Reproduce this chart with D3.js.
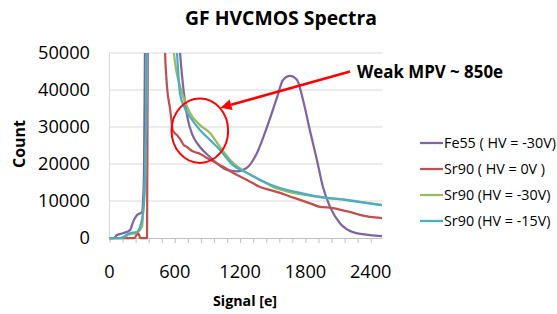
<!DOCTYPE html>
<html><head><meta charset="utf-8">
<script src="https://cdn.jsdelivr.net/npm/d3@7"></script>
<style>body{margin:0;background:#fff}svg{display:block}text{font-family:"Open Sans",sans-serif}</style>
</head><body><svg id="c" width="557" height="314"></svg>
<script>
const seriesNames = ["Fe55 ( HV = -30V)", "Sr90 ( HV = 0V )", "Sr90 (HV = -30V)", "Sr90 (HV = -15V)"];
const seriesColors = ["#8064A2", "#C0504D", "#9BBB59", "#4BACC6"];
const fe55X = [0,40,69,124,188,216,253,299,308,317,326,345,400,500,600,648,680,720,760,831,923,1015,1079,1171,1263,1355,1447,1539,1594,1658,1723,1778,1842,1906,1961,2026,2117,2237,2392,2503];
const fe55Y = [0,0,800,1300,2100,4300,6200,7000,10000,18000,52000,110000,150000,110000,70000,50000,40000,32000,28000,24600,21900,19500,18400,18000,19000,23000,30000,38000,42700,43800,42700,37300,29000,21000,13800,8400,4000,1600,800,500];
const sr0X = [0,230,250,262,272,282,345,352,360,430,500,510,528,556,583,620,648,680,712,760,831,896,960,1015,1075,1135,1200,1263,1383,1470,1566,1650,1750,1850,1934,2053,2150,2237,2320,2392,2503];
const sr0Y = [0,0,900,1400,800,0,0,60000,150000,120000,60000,50000,41000,35000,29000,27800,26800,25200,24600,23500,22800,21600,20600,19700,18700,17600,16600,15700,13800,13000,12200,11300,10300,9300,8400,8100,7400,6800,6100,5700,5400];
const sr30X = [0,100,188,253,299,308,326,340,345,360,450,560,592,648,693,740,831,923,1015,1135,1263,1383,1502,1658,1814,1998,2182,2365,2503];
const sr30Y = [0,0,1000,1500,3000,6700,16000,40000,70000,120000,110000,70000,50000,41000,37000,33800,30500,28400,24600,20300,17600,15700,13800,12400,11600,10800,10300,9500,8900];
const sr15X = [0,100,188,253,280,308,326,340,345,360,450,580,620,648,693,740,831,923,1015,1135,1263,1383,1566,1750,1934,2117,2301,2503];
const sr15Y = [0,0,1300,1600,3000,6700,16000,40000,70000,120000,110000,70000,50000,39000,35000,32700,29200,26500,23800,19700,17600,15700,13500,12200,11100,10500,9700,8900];
const xTicksMinor = d3.range(0, 2401, 120);
const xTickLabels = [0, 600, 1200, 1800, 2400];
const yTickLabels = [0, 10000, 20000, 30000, 40000, 50000];
const titleText = "GF HVCMOS Spectra";
const xTitle = "Signal [e]";
const yTitle = "Count";
const noteText = "Weak MPV ~ 850e";
const noteEllipse = {cx: 830, cy: 29000, rx: 260, ry: 8700};
const noteArrow = {x1: 2210, y1: 45000, x2: 1020, y2: 35200};

const svg = d3.select("#c");
const L = 109.5, R = 382.5, T = 53, B = 238;
const x = d3.scaleLinear().domain([0, 2508]).range([L, R]);
const y = d3.scaleLinear().domain([0, 50000]).range([B, T]);

function fit(sel, w) {
  const len = sel.node().getComputedTextLength();
  const fs = +sel.attr("font-size");
  sel.attr("font-size", (fs * w / len).toFixed(2));
  return fs * w / len;
}

// grid
svg.append("g").selectAll("line").data(yTickLabels.slice(1)).join("line")
  .attr("x1", L).attr("x2", R).attr("y1", d => y(d)).attr("y2", d => y(d))
  .attr("stroke", "#d9d9d9").attr("stroke-width", 1);
svg.append("line").attr("x1", L).attr("x2", L).attr("y1", T).attr("y2", B).attr("stroke", "#d9d9d9");
// x axis
const xa = svg.append("g").attr("transform", `translate(0,${B})`)
  .call(d3.axisBottom(x).tickValues(xTicksMinor).tickSize(5).tickFormat(""));
xa.select(".domain").attr("stroke", "#bfbfbf").attr("d", `M${L},0.5H${R}`);
xa.selectAll(".tick line").attr("stroke", "#bfbfbf");

// measure tick font size
const probe = svg.append("text").attr("font-size", 18).text("50000");
const tickFs = fit(probe, 52);
probe.remove();

svg.append("g").selectAll("text").data(xTickLabels).join("text")
  .attr("x", d => x(d)).attr("y", 278).attr("text-anchor", "middle")
  .attr("font-size", tickFs).attr("fill", "#000").text(d => d);
svg.append("g").selectAll("text").data(yTickLabels).join("text")
  .attr("x", 90).attr("y", d => y(d) + 6).attr("text-anchor", "end")
  .attr("font-size", tickFs).attr("fill", "#000").text(d => d);

// titles
fit(svg.append("text").attr("x", 281).attr("y", 25).attr("text-anchor", "middle")
  .attr("font-size", 18).attr("font-weight", "bold").text(titleText), 192);
fit(svg.append("text").attr("x", 245).attr("y", 306).attr("text-anchor", "middle")
  .attr("font-size", 16).attr("font-weight", "bold").text(xTitle), 64);
fit(svg.append("text").attr("transform", "translate(25,144) rotate(-90)").attr("text-anchor", "middle")
  .attr("font-size", 16).attr("font-weight", "bold").text(yTitle), 48);

// series
svg.append("clipPath").attr("id", "clip").append("rect")
  .attr("x", L - 2).attr("y", T).attr("width", R - L + 2).attr("height", B - T + 4);
const data = [[fe55X, fe55Y], [sr0X, sr0Y], [sr30X, sr30Y], [sr15X, sr15Y]];
const line = d3.line().x(d => x(d[0])).y(d => y(d[1])).curve(d3.curveMonotoneX);
const g = svg.append("g").attr("clip-path", "url(#clip)");
data.forEach((s, i) => {
  const pts = s[0].map((v, j) => [v, s[1][j]]);
  g.append("path").attr("d", line(pts)).attr("fill", "none")
    .attr("stroke", seriesColors[i]).attr("stroke-width", 2.25).attr("stroke-linejoin", "round");
});

// annotation
svg.append("ellipse").attr("cx", x(noteEllipse.cx)).attr("cy", y(noteEllipse.cy))
  .attr("rx", x(noteEllipse.rx) - x(0)).attr("ry", y(0) - y(noteEllipse.ry))
  .attr("fill", "none").attr("stroke", "#ff0000").attr("stroke-width", 2);
const ax1 = x(noteArrow.x1), ay1 = y(noteArrow.y1), ax2 = x(noteArrow.x2), ay2 = y(noteArrow.y2);
const ang = Math.atan2(ay2 - ay1, ax2 - ax1);
const hl = 11, hw = 5.5;
const bx = ax2 - hl * Math.cos(ang), by = ay2 - hl * Math.sin(ang);
svg.append("line").attr("x1", ax1).attr("y1", ay1).attr("x2", bx).attr("y2", by)
  .attr("stroke", "#ff0000").attr("stroke-width", 2.5);
svg.append("path").attr("d", `M${ax2},${ay2}L${bx - hw*Math.sin(ang)},${by + hw*Math.cos(ang)}L${bx + hw*Math.sin(ang)},${by - hw*Math.cos(ang)}Z`)
  .attr("fill", "#ff0000");
fit(svg.append("text").attr("x", 357).attr("y", 78).attr("font-size", 16.5).attr("font-weight", "bold").text(noteText), 146);

// legend
const lg = svg.append("g");
const lp = svg.append("text").attr("font-size", 15).text(seriesNames[0]);
const legFs = fit(lp, 112);
lp.remove();
seriesNames.forEach((n, i) => {
  const yy = 143 + i * 26;
  lg.append("line").attr("x1", 420).attr("x2", 443).attr("y1", yy).attr("y2", yy)
    .attr("stroke", seriesColors[i]).attr("stroke-width", 2.25);
  lg.append("text").attr("x", 444).attr("y", yy + 5).attr("font-size", legFs).text(n);
});
</script></body></html>
